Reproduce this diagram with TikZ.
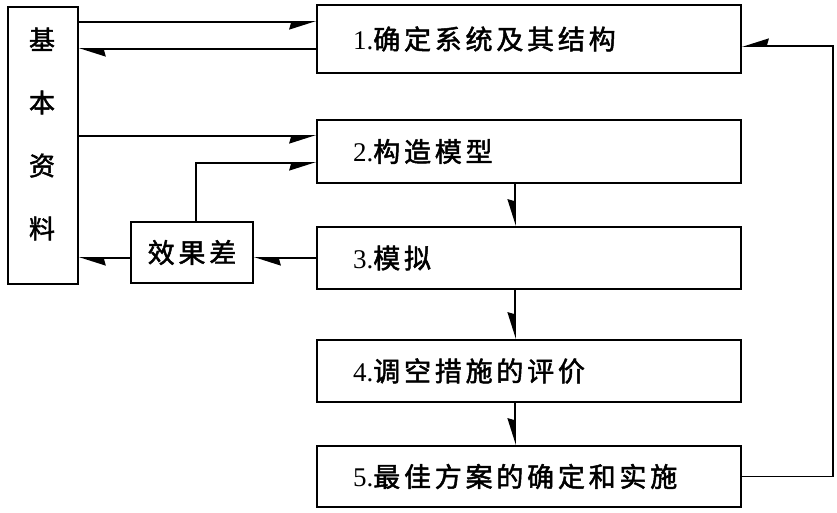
\documentclass[tikz,border=0pt]{standalone}
\usepackage{fontspec}
\setmainfont{Liberation Serif}
\newfontfamily\cjk{Noto Sans CJK SC}[LetterSpace=14,FakeBold=1.8]
\usetikzlibrary{arrows.meta}
\tikzset{
  ln/.style={line width=1.8pt},
  boxs/.style={draw, line width=1.8pt, inner sep=0pt},
  mainbox/.style={boxs, minimum width=424pt, text width=352pt, align=left,
    font=\fontsize{27}{30}\selectfont},
  tipR/.style={-{Stealth[harpoon,swap,length=24pt,width=15pt,inset=2pt]}},
  tipL/.style={-{Stealth[harpoon,length=24pt,width=15pt,inset=2pt]}},
}
\begin{document}
\begin{tikzpicture}[x=1pt,y=-1pt]
\useasboundingbox (0,0) rectangle (837,513);
% left source box
\node[boxs, minimum width=70pt, minimum height=277pt, anchor=north west] (jb) at (7,6) {};
\node[align=center, font=\fontsize{26}{63}\selectfont\cjk] (jbt) at (42,134) {基\\本\\资\\料};
% main boxes
\node[mainbox, minimum height=68pt] (b1) at (529,39) {1.{\cjk 确定系统及其结构}};
\node[mainbox, minimum height=63pt] (b2) at (529,151.5) {2.{\cjk 构造模型}};
\node[mainbox, minimum height=62pt] (b3) at (529,258) {3.{\cjk 模拟}};
\node[mainbox, minimum height=62pt] (b4) at (529,371) {4.{\cjk 调空措施的评价}};
\node[mainbox, minimum height=61pt] (b5) at (529,476.5) {5.{\cjk 最佳方案的确定和实施}};
% effect box
\node[boxs, minimum width=122pt, minimum height=61pt, font=\fontsize{27}{30}\selectfont\cjk] (xg) at (192,252.5) {效果差};
% connectors
\draw[ln, tipR] (jb.east |- 0,22) -- (b1.west |- 0,22);
\draw[ln, tipL] (b1.west |- 0,49) -- (jb.east |- 0,49);
\draw[ln, tipR] (jb.east |- 0,136) -- (b2.west |- 0,136);
\draw[ln, tipR] ([xshift=4pt]xg.north) |- (b2.west |- 0,163);
\draw[ln, tipL] (b3.west |- 0,258) -- (xg.east |- 0,258);
\draw[ln, tipL] (xg.west |- 0,258) -- (jb.east |- 0,258);
\draw[ln, tipR] ([xshift=-14pt]b2.south) -- ([xshift=-14pt]b3.north);
\draw[ln, tipR] ([xshift=-14pt]b3.south) -- ([xshift=-14pt]b4.north);
\draw[ln, tipR] ([xshift=-14pt]b4.south) -- ([xshift=-14pt]b5.north);
\coordinate (rt) at (833,46);
\draw[ln, tipR] (b5.east) -| (rt) -- (b1.east |- rt);
\end{tikzpicture}
\end{document}
